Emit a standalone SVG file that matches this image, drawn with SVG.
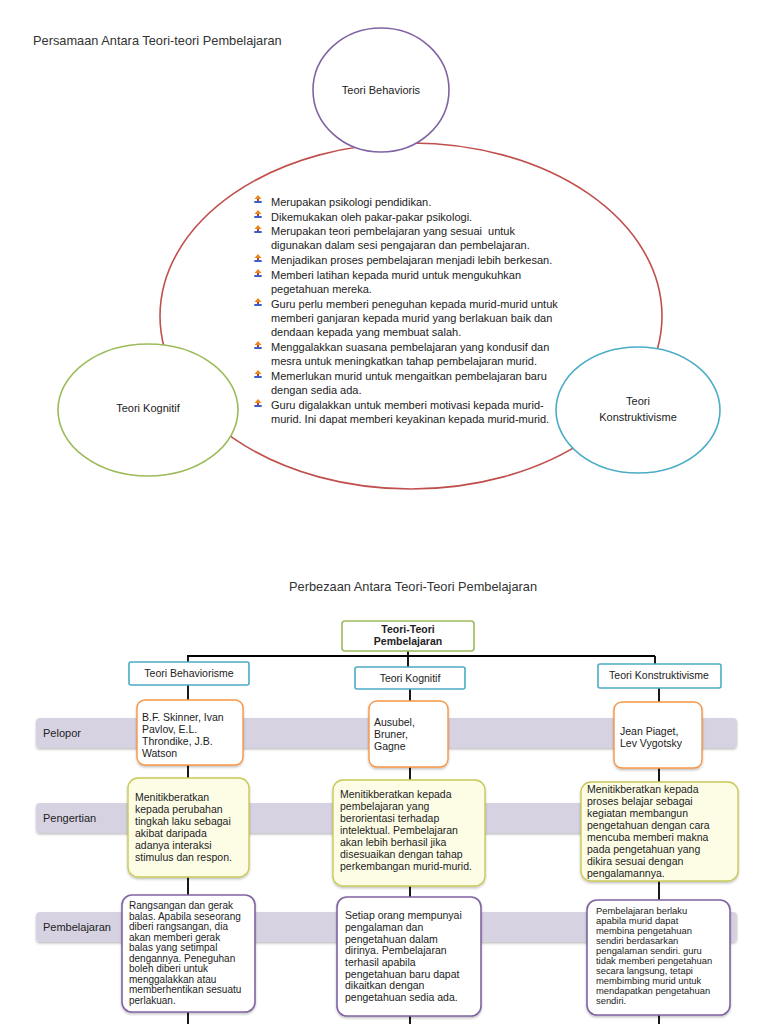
<svg xmlns="http://www.w3.org/2000/svg" width="768" height="1024" viewBox="0 0 768 1024">
<defs>
<style>
text{font-family:"Liberation Sans",Arial,Helvetica,sans-serif;fill:#222}
.t{font-size:12.8px;fill:#333}
.b{font-size:11px}
.lab{font-size:11px}
.sm{font-size:10.5px}
.xs{font-size:10px}
.xxs{font-size:9.4px}
.hd{font-size:10.5px;text-anchor:middle}
.bold{font-weight:bold}
.ell{fill:#fff;stroke-width:1.6}
.band{fill:#d7d2e2;filter:url(#sh)}
.cat{fill:#fff;stroke:#4bacc6;stroke-width:1.6}
.root{fill:#fff;stroke:#9bbb59;stroke-width:1.6}
.pel{fill:#fff;stroke:#f79646;stroke-width:1.4;filter:url(#sh)}
.pen{fill:#fdfde6;stroke:#c9c95a;stroke-width:1.4;filter:url(#sh)}
.pem{fill:#fff;stroke:#8064a2;stroke-width:1.6;filter:url(#sh)}
.con{stroke:#000;stroke-width:1.8;fill:none}
</style>
<filter id="sh" x="-10%" y="-10%" width="120%" height="130%">
<feDropShadow dx="0" dy="1.5" stdDeviation="1" flood-color="#000" flood-opacity="0.25"/>
</filter>
<symbol id="bul" viewBox="0 0 8 8">
<path d="M4 0 L7.5 4 L5 4 L5 7 L3 7 L3 4 L0.5 4 Z" fill="#e8891e"/>
<rect x="0.3" y="6" width="7.4" height="2" fill="#3a5fcd"/>
<rect x="3" y="4" width="2" height="2" fill="#c0392b"/>
</symbol>
</defs>
<rect width="768" height="1024" fill="#fff"/>

<text class="t" x="33" y="45">Persamaan Antara Teori-teori Pembelajaran</text>

<g id="persamaan">
<ellipse cx="411" cy="316" rx="251" ry="173" fill="none" stroke="#c0504d" stroke-width="1.6"/>
<g class="b">
<use href="#bul" x="254" y="195" width="8" height="8"/>
<text x="271" y="206">Merupakan psikologi pendidikan.</text>
<use href="#bul" x="254" y="210" width="8" height="8"/>
<text x="271" y="221">Dikemukakan oleh pakar-pakar psikologi.</text>
<use href="#bul" x="254" y="225" width="8" height="8"/>
<text x="271" y="235" xml:space="preserve">Merupakan teori pembelajaran yang sesuai  untuk</text>
<text x="271" y="249">digunakan dalam sesi pengajaran dan pembelajaran.</text>
<use href="#bul" x="254" y="254" width="8" height="8"/>
<text x="271" y="264">Menjadikan proses pembelajaran menjadi lebih berkesan.</text>
<use href="#bul" x="254" y="269" width="8" height="8"/>
<text x="271" y="279">Memberi latihan kepada murid untuk mengukuhkan</text>
<text x="271" y="293">pegetahuan mereka.</text>
<use href="#bul" x="254" y="298" width="8" height="8"/>
<text x="271" y="308">Guru perlu memberi peneguhan kepada murid-murid untuk</text>
<text x="271" y="322">memberi ganjaran kepada murid yang berlakuan baik dan</text>
<text x="271" y="336">dendaan kepada yang membuat salah.</text>
<use href="#bul" x="254" y="341" width="8" height="8"/>
<text x="271" y="351">Menggalakkan suasana pembelajaran yang kondusif dan</text>
<text x="271" y="365">mesra untuk meningkatkan tahap pembelajaran murid.</text>
<use href="#bul" x="254" y="370" width="8" height="8"/>
<text x="271" y="380">Memerlukan murid untuk mengaitkan pembelajaran baru</text>
<text x="271" y="394">dengan sedia ada.</text>
<use href="#bul" x="254" y="399" width="8" height="8"/>
<text x="271" y="409">Guru digalakkan untuk memberi motivasi kepada murid-</text>
<text x="271" y="423">murid. Ini dapat memberi keyakinan kepada murid-murid.</text>
</g>
</g>

<g id="behavioris">
<ellipse class="ell" cx="381" cy="90" rx="68" ry="62" stroke="#8064a2"/>
<text class="lab" x="381" y="94" text-anchor="middle">Teori Behavioris</text>
</g>
<g id="kognitif">
<ellipse class="ell" cx="148" cy="410" rx="90" ry="66" stroke="#9bbb59"/>
<text class="lab" x="148" y="412" text-anchor="middle">Teori Kognitif</text>
</g>
<g id="konstruktivisme">
<ellipse class="ell" cx="638" cy="410" rx="82" ry="63" stroke="#4bacc6"/>
<text class="lab" x="638" y="405" text-anchor="middle">Teori</text>
<text class="lab" x="638" y="421" text-anchor="middle">Konstruktivisme</text>
</g>

<text class="t" x="413" y="591" text-anchor="middle">Perbezaan Antara Teori-Teori Pembelajaran</text>

<g id="bands">
<rect class="band" x="36" y="718" width="701" height="30" rx="4"/>
<text class="lab" x="43" y="737">Pelopor</text>
<rect class="band" x="36" y="803" width="701" height="30" rx="4"/>
<text class="lab" x="43" y="822">Pengertian</text>
<rect class="band" x="36" y="912" width="701" height="30" rx="4"/>
<text class="lab" x="43" y="931">Pembelajaran</text>
</g>

<g id="connectors">
<path class="con" d="M408 651 V657 M187 656 H655 M188 656 V662 M408 656 V667 M655 656 V664"/>
<path class="con" d="M188 685 V700 M188 765 V778 M188 877 V895 M188 1012 V1024"/>
<path class="con" d="M410 689 V701 M410 767 V780 M410 886 V897 M410 1016 V1024"/>
<path class="con" d="M659 688 V702 M659 768 V782 M659 881 V900 M659 1015 V1024"/>
</g>

<g id="root">
<rect class="root" x="342" y="621" width="132" height="30" rx="3"/>
<text class="hd bold" x="408" y="633">Teori-Teori</text>
<text class="hd bold" x="408" y="645">Pembelajaran</text>
</g>
<g id="cat-behaviorisme">
<rect class="cat" x="129" y="662" width="120" height="23" rx="2"/>
<text class="hd" x="189" y="677">Teori Behaviorisme</text>
</g>
<g id="cat-kognitif">
<rect class="cat" x="355" y="667" width="110" height="22" rx="2"/>
<text class="hd" x="410" y="682">Teori Kognitif</text>
</g>
<g id="cat-konstruktivisme">
<rect class="cat" x="598" y="664" width="123" height="24" rx="2"/>
<text class="hd" x="659" y="679">Teori Konstruktivisme</text>
</g>

<g id="pelopor-behaviorisme">
<rect class="pel" x="137" y="700" width="106" height="65" rx="8"/>
<text class="sm" x="142" y="721">B.F. Skinner, Ivan</text>
<text class="sm" x="142" y="733">Pavlov, E.L.</text>
<text class="sm" x="142" y="745">Throndike, J.B.</text>
<text class="sm" x="142" y="757">Watson</text>
</g>
<g id="pelopor-kognitif">
<rect class="pel" x="369" y="701" width="79" height="66" rx="8"/>
<text class="sm" x="374" y="726">Ausubel,</text>
<text class="sm" x="374" y="738">Bruner,</text>
<text class="sm" x="374" y="750">Gagne</text>
</g>
<g id="pelopor-konstruktivisme">
<rect class="pel" x="614" y="702" width="88" height="66" rx="8"/>
<text class="sm" x="620" y="735">Jean Piaget,</text>
<text class="sm" x="620" y="747">Lev Vygotsky</text>
</g>

<g id="pengertian-behaviorisme">
<rect class="pen" x="128" y="778" width="121" height="99" rx="10"/>
<text class="sm" x="135" y="801">Menitikberatkan</text>
<text class="sm" x="135" y="813">kepada perubahan</text>
<text class="sm" x="135" y="825">tingkah laku sebagai</text>
<text class="sm" x="135" y="837">akibat daripada</text>
<text class="sm" x="135" y="849">adanya interaksi</text>
<text class="sm" x="135" y="861">stimulus dan respon.</text>
</g>
<g id="pengertian-kognitif">
<rect class="pen" x="333" y="780" width="152" height="106" rx="10"/>
<text class="sm" x="340" y="798">Menitikberatkan kepada</text>
<text class="sm" x="340" y="810">pembelajaran yang</text>
<text class="sm" x="340" y="822">berorientasi terhadap</text>
<text class="sm" x="340" y="834">intelektual. Pembelajaran</text>
<text class="sm" x="340" y="846">akan lebih berhasil jika</text>
<text class="sm" x="340" y="858">disesuaikan dengan tahap</text>
<text class="sm" x="340" y="870">perkembangan murid-murid.</text>
</g>
<g id="pengertian-konstruktivisme">
<rect class="pen" x="581" y="782" width="157" height="99" rx="10"/>
<text class="sm" x="587" y="793">Menitikberatkan kepada</text>
<text class="sm" x="587" y="805">proses belajar sebagai</text>
<text class="sm" x="587" y="817">kegiatan membangun</text>
<text class="sm" x="587" y="829">pengetahuan dengan cara</text>
<text class="sm" x="587" y="841">mencuba memberi makna</text>
<text class="sm" x="587" y="853">pada pengetahuan yang</text>
<text class="sm" x="587" y="865">dikira sesuai dengan</text>
<text class="sm" x="587" y="877">pengalamannya.</text>
</g>

<g id="pembelajaran-behaviorisme">
<rect class="pem" x="122" y="895" width="133" height="117" rx="10"/>
<text class="xs" x="129" y="909">Rangsangan dan gerak</text>
<text class="xs" x="129" y="920">balas. Apabila seseorang</text>
<text class="xs" x="129" y="930">diberi rangsangan, dia</text>
<text class="xs" x="129" y="941">akan memberi gerak</text>
<text class="xs" x="129" y="951">balas yang setimpal</text>
<text class="xs" x="129" y="962">dengannya. Peneguhan</text>
<text class="xs" x="129" y="972">boleh diberi untuk</text>
<text class="xs" x="129" y="983">menggalakkan atau</text>
<text class="xs" x="129" y="993">memberhentikan sesuatu</text>
<text class="xs" x="129" y="1004">perlakuan.</text>
</g>
<g id="pembelajaran-kognitif">
<rect class="pem" x="337" y="897" width="144" height="119" rx="10"/>
<text class="sm" x="345" y="919">Setiap orang mempunyai</text>
<text class="sm" x="345" y="931">pengalaman dan</text>
<text class="sm" x="345" y="943">pengetahuan dalam</text>
<text class="sm" x="345" y="954">dirinya. Pembelajaran</text>
<text class="sm" x="345" y="966">terhasil apabila</text>
<text class="sm" x="345" y="978">pengetahuan baru dapat</text>
<text class="sm" x="345" y="989">dikaitkan dengan</text>
<text class="sm" x="345" y="1001">pengetahuan sedia ada.</text>
</g>
<g id="pembelajaran-konstruktivisme">
<rect class="pem" x="587" y="900" width="143" height="115" rx="10"/>
<text class="xxs" x="596" y="914">Pembelajaran berlaku</text>
<text class="xxs" x="596" y="924">apabila murid dapat</text>
<text class="xxs" x="596" y="934">membina pengetahuan</text>
<text class="xxs" x="596" y="944">sendiri berdasarkan</text>
<text class="xxs" x="596" y="954">pengalaman sendiri. guru</text>
<text class="xxs" x="596" y="964">tidak memberi pengetahuan</text>
<text class="xxs" x="596" y="974">secara langsung, tetapi</text>
<text class="xxs" x="596" y="984">membimbing murid untuk</text>
<text class="xxs" x="596" y="994">mendapatkan pengetahuan</text>
<text class="xxs" x="596" y="1004">sendiri.</text>
</g>
</svg>
